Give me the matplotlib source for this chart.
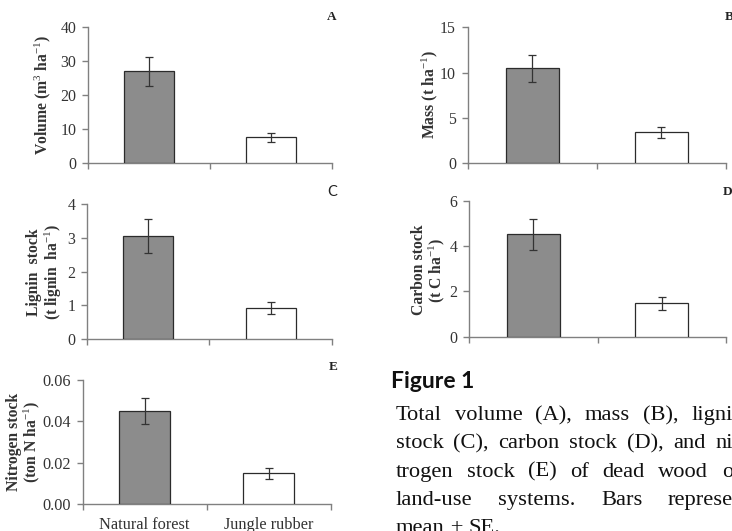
import matplotlib
matplotlib.use("Agg")
import matplotlib.pyplot as plt
from matplotlib.ticker import FormatStrFormatter

plt.rcParams['font.family'] = ['Liberation Serif', 'DejaVu Serif']
plt.rcParams['mathtext.fontset'] = 'custom'
plt.rcParams['mathtext.rm'] = 'Liberation Serif'
plt.rcParams['mathtext.it'] = 'Liberation Serif:italic'
plt.rcParams['mathtext.bf'] = 'Liberation Serif:bold'

# ---------------- data ----------------
categories = ["Natural forest", "Jungle rubber"]
volume = [27.0, 7.6]
volume_se = [4.3, 1.3]
mass = [10.5, 3.4]
mass_se = [1.5, 0.6]
lignin = [3.05, 0.93]
lignin_se = [0.50, 0.17]
carbon = [4.52, 1.47]
carbon_se = [0.68, 0.30]
nitrogen = [0.045, 0.015]
nitrogen_se = [0.0063, 0.0027]

yticks_A = [0, 10, 20, 30, 40]
yticks_B = [0, 5, 10, 15]
yticks_C = [0, 1, 2, 3, 4]
yticks_D = [0, 2, 4, 6]
yticks_E = [0.00, 0.02, 0.04, 0.06]

ylabel_A = r"Volume (m$^{3}$ ha$^{-1}$)"
ylabel_B = r"Mass (t ha$^{-1}$)"
ylabel_C = "Lignin  stock\n" + r"(t lignin  ha$^{-1}$)"
ylabel_D = "Carbon stock\n" + r"(t C ha$^{-1}$)"
ylabel_E = "Nitrogen stock\n" + r"(ton N ha$^{-1}$)"

caption_title = "Figure 1"
caption_lines = [
    ["Total", "volume", "(A),", "mass", "(B),", "lignin"],
    ["stock", "(C),", "carbon", "stock", "(D),", "and", "ni-"],
    ["trogen", "stock", "(E)", "of", "dead", "wood", "of"],
    ["land-use", "systems.", "Bars", "represent"],
    ["mean", "±", "SE."],
]
# part of each line's last word that is visible before the right edge
visible_tail = ["ligni", "ni", "o", "represe", None]

# ---------------- layout ----------------
W, H = 732, 531
fig = plt.figure(figsize=(W / 100, H / 100), dpi=100)

def fx(x):
    return x / W

def fy(y):
    return 1 - y / H

def add_ax(left, right, top, bottom):
    return fig.add_axes([fx(left), fy(bottom), fx(right) - fx(left), (bottom - top) / H])

AX_COL = "#808080"
TXT_COL = "#333333"
BAR_COLORS = ["#8c8c8c", "#ffffff"]

def panel(ax, vals, errs, yticks, fmt=None, show_x=False, tfs=11.4):
    x = [0.5, 1.5]
    ax.bar(x, vals, width=0.41, color=BAR_COLORS, edgecolor="#2b2b2b",
           linewidth=0.9, zorder=3)
    ax.errorbar(x, vals, yerr=errs, fmt="none", ecolor="#333333",
                elinewidth=0.9, capsize=3.2, capthick=0.9, zorder=4)
    ax.set_xlim(0, 2)
    ax.set_ylim(yticks[0], yticks[-1])
    ax.set_yticks(yticks)
    if fmt:
        ax.yaxis.set_major_formatter(FormatStrFormatter(fmt))
    ax.set_xticks([0, 1, 2])
    ax.set_xticklabels([])
    for s in ["top", "right"]:
        ax.spines[s].set_visible(False)
    for s in ["left", "bottom"]:
        ax.spines[s].set_color(AX_COL)
        ax.spines[s].set_linewidth(1.0)
    ax.tick_params(axis="both", direction="out", length=4.5, width=1.0,
                   color=AX_COL, labelcolor=TXT_COL, labelsize=tfs, pad=4)
    ax.set_facecolor("none")
    if show_x:
        ax.set_xticks([0, 0.5, 1, 1.5, 2])
        ax.set_xticklabels(["", categories[0], "", categories[1], ""])
        for t, tk in zip(ax.xaxis.get_major_ticks(), [0, 0.5, 1, 1.5, 2]):
            if tk in (0.5, 1.5):
                t.tick1line.set_visible(False)
        ax.tick_params(axis="x", labelsize=11.8, pad=5)

axA = add_ax(88, 332, 27, 163)
panel(axA, volume, volume_se, yticks_A)
axB = add_ax(467.7, 726, 27.3, 163.3)
panel(axB, mass, mass_se, yticks_B)
axC = add_ax(87, 332, 204, 339.3)
panel(axC, lignin, lignin_se, yticks_C)
axD = add_ax(469, 726, 201, 336.7)
panel(axD, carbon, carbon_se, yticks_D)
axE = add_ax(82.7, 330.5, 380, 504.3)
panel(axE, nitrogen, nitrogen_se, yticks_E, fmt="%.2f", show_x=True, tfs=11.7)

# y labels
def ylab(txt, x, y):
    fig.text(fx(x), fy(y), txt, rotation=90, ha="center", va="center",
             multialignment="center", fontsize=11.3, fontweight="bold",
             color=TXT_COL, linespacing=1.0)

ylab(ylabel_A, 43, 95)
ylab(ylabel_B, 430, 95)
ylab(ylabel_C, 45, 272)
ylab(ylabel_D, 429, 270)
ylab(ylabel_E, 24, 442)

# panel letters
fig.text(fx(332), fy(17), "A", ha="center", va="center", fontsize=9.5,
         fontweight="bold", color="#222222")
fig.text(fx(729), fy(17), "B", ha="center", va="center", fontsize=9.5,
         fontweight="bold", color="#222222")
fig.text(fx(332), fy(192), "C", ha="center", va="center", fontsize=10.5,
         family="Lato", color="#222222")
fig.text(fx(728), fy(192), "D", ha="center", va="center", fontsize=9.5,
         fontweight="bold", color="#222222")
fig.text(fx(333), fy(367.5), "E", ha="center", va="center", fontsize=9.5,
         fontweight="bold", color="#222222")

# caption
fig.text(fx(391), fy(388.5), caption_title, ha="left", va="baseline",
         fontsize=16.5, fontweight="bold", family=["Lato", "DejaVu Sans"],
         color="#111111")

CAP_FS = 16.2
line_start = 395.7
baselines = [420, 448.3, 476.6, 504.9, 533.2]
renderer = fig.canvas.get_renderer()

def text_width(s):
    t = fig.text(0, 0, s, fontsize=CAP_FS)
    w = t.get_window_extent(renderer).width
    t.remove()
    return w

space_w = text_width("a b") - text_width("ab")
for words, tail, yb in zip(caption_lines, visible_tail, baselines):
    texts = [fig.text(0, fy(yb), w, ha="left", va="baseline", fontsize=CAP_FS,
                      color="#111111") for w in words]
    widths = [t.get_window_extent(renderer).width for t in texts]
    if tail is None:
        gap = space_w
    else:
        last_x = W - text_width(tail) + 1
        gap = (last_x - line_start - sum(widths[:-1])) / (len(words) - 1)
    x = line_start
    for t, wdt in zip(texts, widths):
        t.set_x(fx(x))
        x += wdt + gap

fig.savefig("out.png", dpi=100)
